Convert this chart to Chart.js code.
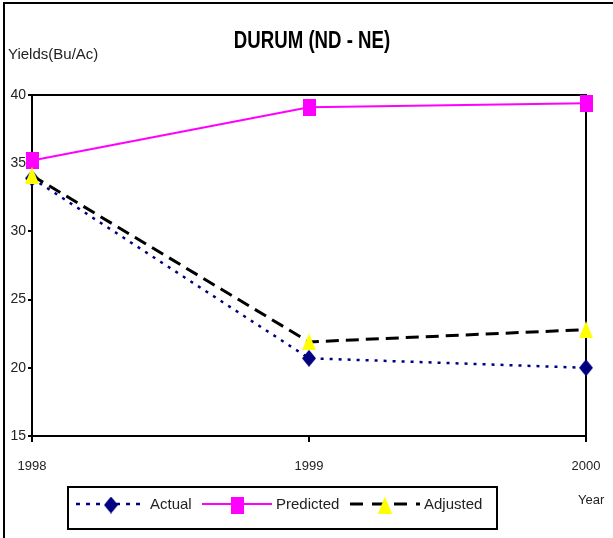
<!DOCTYPE html>
<html>
<head>
<meta charset="utf-8">
<script src="https://cdn.jsdelivr.net/npm/chart.js@4"></script>
<style>
  html, body { margin: 0; padding: 0; background: #fff; }
  canvas { display: block; }
</style>
</head>
<body>
<canvas id="chart" width="613" height="538"></canvas>
<script>
// ===== Data =====
const years = ["1998", "1999", "2000"];
const actual = [33.9, 20.7, 20.0];
const predicted = [35.2, 39.1, 39.4];
const adjusted = [34.1, 21.9, 22.8];
const yMin = 15, yMax = 40, yStep = 5;

const FONT = "'Liberation Sans', Arial, sans-serif";
const TEXT = "#222";

// custom markers (stretched like the original)
function marker(shape, color, w, h) {
  const c = document.createElement("canvas");
  c.width = w;
  c.height = h;
  const ctx = c.getContext("2d");
  ctx.fillStyle = color;
  ctx.beginPath();
  if (shape === "diamond") {
    ctx.moveTo(w / 2, 0);
    ctx.lineTo(w, h / 2);
    ctx.lineTo(w / 2, h);
    ctx.lineTo(0, h / 2);
  } else if (shape === "triangle") {
    ctx.moveTo(w / 2, 0);
    ctx.lineTo(w, h);
    ctx.lineTo(0, h);
  } else {
    ctx.rect(0, 0, w, h);
  }
  ctx.closePath();
  ctx.fill();
  return c;
}

// ===== Decorations: frame, plot box, labels, legend =====
const decor = {
  id: "decor",
  beforeDraw(chart) {
    const ctx = chart.ctx;
    ctx.save();
    ctx.fillStyle = "#fff";
    ctx.fillRect(0, 0, chart.width, chart.height);
    ctx.strokeStyle = "#000";
    ctx.lineWidth = 2;
    ctx.beginPath();
    ctx.moveTo(4, chart.height);
    ctx.lineTo(4, 3);
    ctx.lineTo(chart.width, 3);
    ctx.stroke();
    ctx.restore();
  },
  beforeDatasetsDraw(chart) {
    const { ctx, chartArea: a } = chart;
    ctx.save();
    ctx.strokeStyle = "#000";
    ctx.lineWidth = 2;
    ctx.beginPath();
    ctx.moveTo(a.left, a.top);
    ctx.lineTo(a.right, a.top);
    ctx.lineTo(a.right, a.bottom);
    ctx.stroke();
    ctx.restore();
  },
  afterDraw(chart) {
    const ctx = chart.ctx;
    ctx.save();
    // title, squeezed like the original
    ctx.save();
    ctx.fillStyle = "#000";
    ctx.textBaseline = "middle";
    ctx.textAlign = "center";
    ctx.font = "bold 23px " + FONT;
    ctx.translate(312, 42);
    ctx.scale(0.81, 1);
    ctx.fillText("DURUM (ND - NE)", 0, 0);
    ctx.restore();

    ctx.textBaseline = "middle";
    ctx.fillStyle = TEXT;
    ctx.textAlign = "left";
    ctx.font = "15px " + FONT;
    ctx.fillText("Yields(Bu/Ac)", 8, 55);
    ctx.font = "13px " + FONT;
    ctx.fillText("Year", 578, 500);

    // legend box
    ctx.strokeStyle = "#000";
    ctx.lineWidth = 2;
    ctx.strokeRect(68, 487, 429, 42);

    const starts = [76, 202, 350];
    chart.data.datasets.forEach((ds, i) => {
      const x0 = starts[i], x1 = x0 + 70, y = 504;
      ctx.save();
      ctx.strokeStyle = ds.borderColor;
      ctx.lineWidth = ds.borderWidth;
      ctx.setLineDash(ds.legendDash || []);
      ctx.beginPath();
      ctx.moveTo(x0, y);
      ctx.lineTo(x1, y);
      ctx.stroke();
      ctx.restore();
      const img = ds.pointStyle;
      ctx.drawImage(img, (x0 + x1) / 2 - img.width / 2, y - img.height / 2 + 1);
      ctx.fillStyle = TEXT;
      ctx.font = "15px " + FONT;
      ctx.textAlign = "left";
      ctx.fillText(ds.label, x1 + 4, y + 1);
    });
    ctx.restore();
  },
};

// ===== Chart =====
new Chart(document.getElementById("chart"), {
  type: "line",
  data: {
    labels: years,
    datasets: [
      {
        label: "Actual",
        data: actual,
        borderColor: "#000080",
        backgroundColor: "#000080",
        borderWidth: 2.5,
        borderDash: [3, 6],
        legendDash: [4, 6],
        pointStyle: marker("diamond", "#000080", 14, 17),
        tension: 0,
        clip: false,
        order: 1,
      },
      {
        label: "Predicted",
        data: predicted,
        borderColor: "#ff00ff",
        backgroundColor: "#ff00ff",
        borderWidth: 2,
        pointStyle: marker("rect", "#ff00ff", 13, 17),
        tension: 0,
        clip: false,
        order: 2,
      },
      {
        label: "Adjusted",
        data: adjusted,
        borderColor: "#000",
        backgroundColor: "#ffff00",
        borderWidth: 3,
        borderDash: [13, 7],
        legendDash: [13, 9],
        pointStyle: marker("triangle", "#ffff00", 14, 17),
        tension: 0,
        clip: false,
        order: 0,
      },
    ],
  },
  options: {
    responsive: false,
    animation: false,
    events: [],
    layout: { padding: { left: 0, top: 95, right: 27, bottom: 62 } },
    plugins: {
      legend: { display: false },
      title: { display: false },
      tooltip: { enabled: false },
    },
    scales: {
      x: {
        type: "category",
        offset: false,
        grid: {
          drawOnChartArea: false,
          drawTicks: true,
          tickLength: 6,
          color: "#000",
          lineWidth: 2,
        },
        border: { color: "#000", width: 2 },
        ticks: {
          color: TEXT,
          font: { family: FONT, size: 13 },
          padding: 17,
          maxRotation: 0,
        },
        afterFit: (s) => {
          s.height = 40;
          s.paddingLeft = 0;
          s.paddingRight = 0;
        },
      },
      y: {
        min: yMin,
        max: yMax,
        grid: {
          drawOnChartArea: false,
          drawTicks: true,
          tickLength: 4,
          color: "#000",
          lineWidth: 2,
        },
        border: { color: "#000", width: 2 },
        ticks: {
          stepSize: yStep,
          color: TEXT,
          font: { family: FONT, size: 14 },
          padding: 2,
        },
        afterFit: (s) => { s.width = 32; },
      },
    },
  },
  plugins: [decor],
});
</script>
</body>
</html>
